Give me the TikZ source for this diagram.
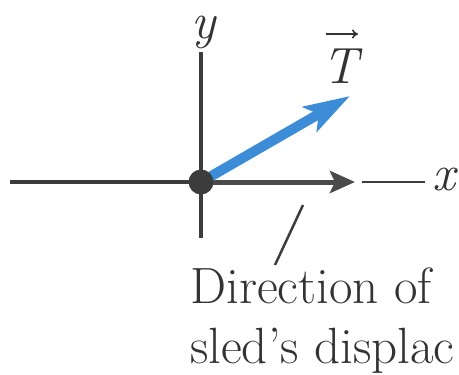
\documentclass[tikz,border=0pt]{standalone}
\usepackage{fontspec}
\usetikzlibrary{arrows.meta}
\definecolor{axisgray}{HTML}{3C3C3C}
\definecolor{arrowgray}{HTML}{4A4A4A}
\definecolor{tblue}{HTML}{3C8CD8}
\definecolor{textgray}{HTML}{333333}
\tikzset{
  axisline/.style={draw=axisgray, line width=3.5pt},
  grayvec/.style={draw=arrowgray, line width=5pt,
    -{Stealth[length=25pt,width=22pt,inset=5pt]}},
  bluevec/.style={draw=tblue, line width=10pt,
    -{Stealth[length=46pt,width=28pt,inset=10pt]}},
  lbl/.style={text=textgray, inner sep=0pt, font=\rmfamily\fontsize{51}{60}\selectfont},
  leader/.style={draw=axisgray, line width=2.5pt},
  vecarrow/.style={draw=textgray, line width=1.6pt, -{To[length=6pt,width=9pt]}}
}
\begin{document}
\begin{tikzpicture}[x=1pt,y=-1pt]
\useasboundingbox (0,0) rectangle (459,375);
\coordinate (O) at (201,182);
\coordinate (ytop) at (201,52);
\coordinate (ybot) at (201,238);
\coordinate (xleft) at (10,182);
\coordinate (dtip) at (355,182);
\coordinate (xs) at (362,182);
\coordinate (xe) at (425,182);
\coordinate (Ttip) at (350,96);
\coordinate (leadtop) at (303,205);
\coordinate (leadbot) at (275,265);
\coordinate (varL) at (326,34);
\coordinate (varR) at (358,34);
\draw[axisline] (ytop) -- (ybot);
\draw[axisline] (xleft) -- (O);
\draw[axisline, line width=2.5pt] (xs) -- (xe);
\draw[grayvec] (O) -- (dtip);
\draw[bluevec] (O) -- (Ttip);
\node[circle, fill=axisgray, minimum size=25pt, inner sep=0pt] (dot) at (O) {};
\node[lbl, anchor=base] (xlab) at (444,190) {\itshape x};
\node[lbl, anchor=base, text height=0.44em, text depth=0.2em] (ylab) at (204,38) {\itshape y};
\node[lbl, anchor=base] (Tlab) at (340,83) {\itshape T};
\draw[vecarrow] (varL) -- (varR);
\draw[leader] (leadtop) -- (leadbot);
\node[lbl, anchor=base west] (dir1) at (190,303) {Direction of};
\node[lbl, anchor=base west] (dir2) at (190,363) {sled’s displac};
\end{tikzpicture}
\end{document}
